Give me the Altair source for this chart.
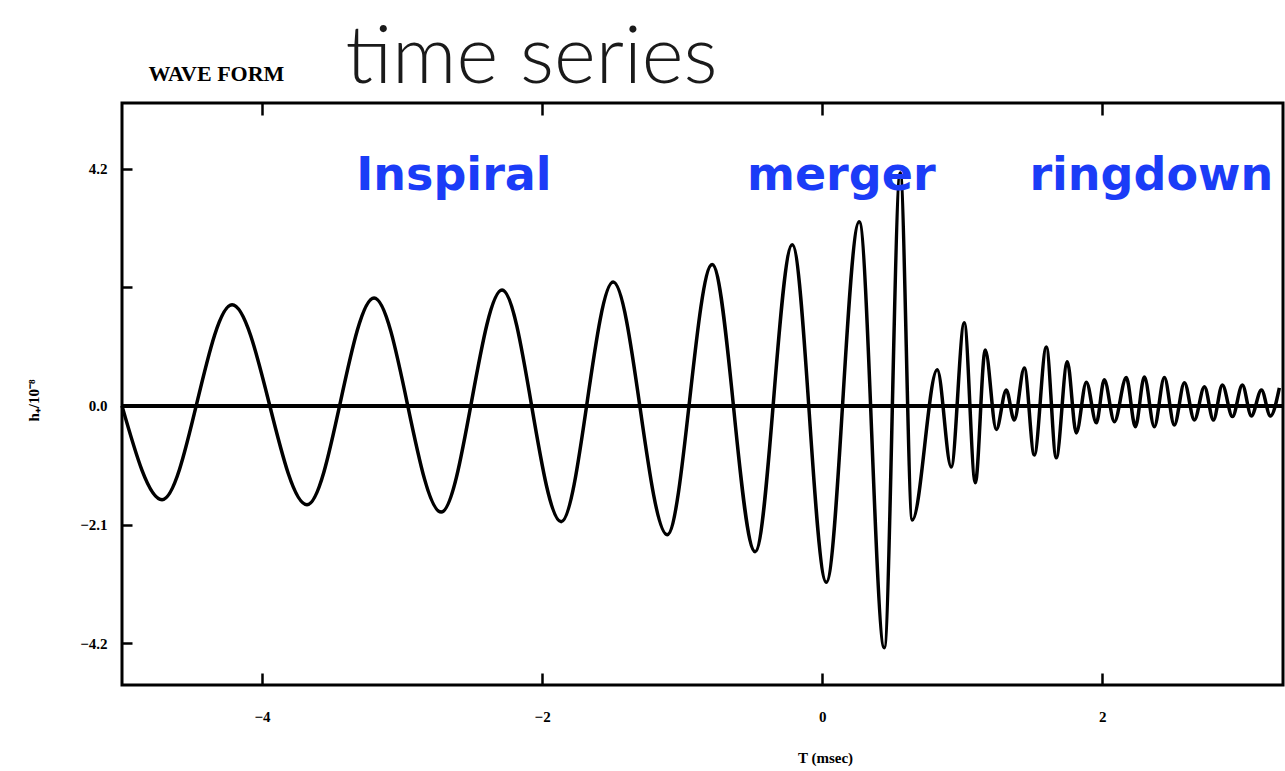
import altair as alt
import pandas as pd

# Strain waveform: turning points of h(t) from inspiral through merger and ringdown
t_ms = [
    -5.0, -4.714, -4.214, -3.679, -3.200, -2.721, -2.286, -1.864, -1.493, -1.107,
    -0.786, -0.479, -0.214, 0.029, 0.264, 0.443, 0.557, 0.643, 0.821, 0.921,
    1.014, 1.093, 1.164, 1.243, 1.314, 1.371, 1.443, 1.514, 1.600, 1.671,
    1.750, 1.814, 1.886, 1.957, 2.014, 2.086, 2.171, 2.236, 2.300, 2.371,
    2.443, 2.514, 2.586, 2.657, 2.729, 2.793, 2.857, 2.929, 3.000, 3.064,
    3.136, 3.200, 3.264,
]
h_amp = [
    0.0, -1.66, 1.79, -1.75, 1.91, -1.88, 2.05, -2.05, 2.19, -2.28,
    2.50, -2.58, 2.85, -3.12, 3.26, -4.28, 4.12, -2.02, 0.64, -1.08,
    1.47, -1.36, 0.99, -0.42, 0.28, -0.25, 0.67, -0.87, 1.04, -0.92,
    0.78, -0.48, 0.42, -0.30, 0.46, -0.28, 0.50, -0.37, 0.51, -0.37,
    0.50, -0.34, 0.41, -0.25, 0.34, -0.25, 0.37, -0.19, 0.37, -0.18,
    0.28, -0.18, 0.32,
]

# Phase labels
phase_names = ["Inspiral", "merger", "ringdown"]
phase_t = [-2.63, 0.136, 2.35]
phase_h = [3.82, 3.82, 3.82]

x_ticks = [-4, -2, 0, 2]
y_ticks = [-4.2, -2.1, 0.0, 2.1, 4.2]
x_domain = [-5.0, 3.29]
y_domain = [-4.94, 5.36]

wave = pd.DataFrame({"t": t_ms, "h": h_amp})
phases = pd.DataFrame({"label": phase_names, "t": phase_t, "h": phase_h})

serif = "Liberation Serif"
x_scale = alt.Scale(domain=x_domain, nice=False, zero=False)
y_scale = alt.Scale(domain=y_domain, nice=False, zero=False)

# Bottom axis: inward ticks, labels and the time title
x_bottom = alt.X(
    "t:Q",
    scale=x_scale,
    axis=alt.Axis(
        values=x_ticks, format="d", orient="bottom", domain=False, grid=False,
        offset=-12, tickSize=12, tickWidth=2.5, tickColor="black",
        labelPadding=24, labelFont=serif, labelFontWeight="bold", labelFontSize=15,
        labelColor="black",
        title="T (msec)", titleFont=serif, titleFontWeight="bold", titleFontSize=15,
        titleX=703, titleY=84, titleAlign="center", titleBaseline="middle",
        titleColor="black",
    ),
)
# Top axis: inward ticks only, carrying the small panel caption
x_top = alt.X(
    "t:Q",
    scale=x_scale,
    axis=alt.Axis(
        values=x_ticks, orient="top", domain=False, grid=False, labels=False,
        offset=-12, tickSize=12, tickWidth=2.5, tickColor="black",
        title="WAVE FORM", titleFont=serif, titleFontWeight="bold", titleFontSize=22,
        titleX=26, titleY=-35, titleAlign="left", titleBaseline="alphabetic",
        titleColor="black",
    ),
)
# Left axis: amplitude ticks and labels
y_left = alt.Y(
    "h:Q",
    scale=y_scale,
    axis=alt.Axis(
        values=y_ticks, orient="left", domain=False, grid=False,
        labelExpr="datum.value == 2.1 ? '' : format(datum.value, '.1f')",
        offset=-10, tickSize=10, tickWidth=2.5, tickColor="black",
        labelPadding=15, labelFont=serif, labelFontWeight="bold", labelFontSize=15,
        labelColor="black",
        title="h₊/10⁻⁸", titleFont=serif, titleFontWeight="bold", titleFontSize=15,
        titleX=-99, titleY=297, titleAlign="center", titleBaseline="middle",
        titleAngle=270, titleColor="black",
    ),
)
# Right axis: no ticks, holds the large heading
y_right = alt.Y(
    "h:Q",
    scale=y_scale,
    axis=alt.Axis(
        orient="right", domain=False, grid=False, ticks=False, labels=False,
        title="time series", titleFont="Lato", titleFontSize=80,
        titleFontWeight=300, titleColor="#1a1a1a",
        titleX=-938, titleY=-21, titleAngle=0, titleAlign="left",
        titleBaseline="alphabetic",
    ),
)

curve = alt.Chart(wave).mark_line(
    color="black", strokeWidth=3.5, interpolate="monotone"
).encode(x=x_bottom, y=y_left)

zero_line = alt.Chart(wave).mark_rule(color="black", strokeWidth=3).encode(
    y=alt.YDatum(0, scale=y_scale, axis=None)
)

labels = alt.Chart(phases).mark_text(
    font="DejaVu Sans", fontWeight="bold", fontSize=46, color="#1b3cf7",
    align="center", baseline="alphabetic",
).encode(x=x_top, y=y_right, text="label:N")

chart = (
    alt.layer(curve, zero_line, labels)
    .resolve_axis(x="independent", y="independent")
    .properties(
        width=1161,
        height=582,
        padding={"left": 122, "top": 103, "right": 2, "bottom": 86},
        autosize=alt.AutoSizeParams(type="none"),
        background="white",
    )
    .configure_view(stroke="black", strokeWidth=3)
)

chart.save("out.html", embed_options={"renderer": "svg", "actions": False})
